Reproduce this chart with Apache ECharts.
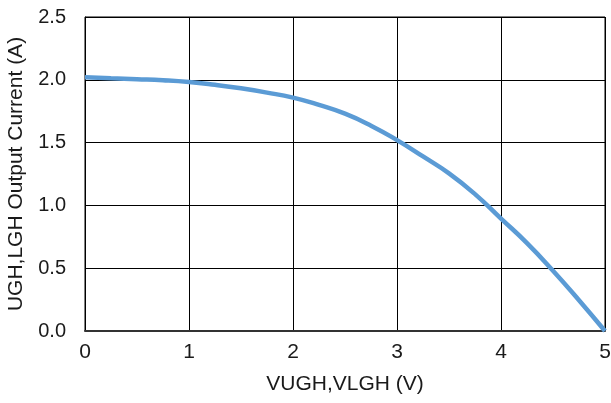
<!DOCTYPE html>
<html>
<head>
<meta charset="utf-8">
<script src="https://cdn.jsdelivr.net/npm/echarts@6/dist/echarts.min.js"></script>
<style>
  html, body { margin: 0; padding: 0; background: #fff; }
  #chart { width: 611px; height: 403px; }
</style>
</head>
<body>
<div id="chart"></div>
<script>
// Output current vs output voltage
const voltage = [0, 0.25, 0.5, 0.75, 1.0, 1.25, 1.5, 1.75, 2.0, 2.25, 2.5,
                 2.75, 3.0, 3.25, 3.5, 3.75, 4.0, 4.25, 4.5, 4.75, 5.0];
const current = [2.02, 2.012, 2.005, 1.997, 1.983, 1.96, 1.932, 1.898, 1.858, 1.80, 1.73,
                 1.635, 1.52, 1.39, 1.255, 1.09, 0.895, 0.70, 0.48, 0.245, 0.0];
const xTicks = [0, 1, 2, 3, 4, 5];
const yTicks = [0.0, 0.5, 1.0, 1.5, 2.0, 2.5];

const points = voltage.map((v, i) => [v, current[i]]);
const font = 'Liberation Sans, Arial, sans-serif';

const chart = echarts.init(document.getElementById('chart'), null, { renderer: 'canvas' });
chart.setOption({
  animation: false,
  grid: {
    left: 85, right: 6, top: 17, bottom: 72,
    containLabel: false, outerBoundsMode: 'none',
    show: true, borderColor: '#000', borderWidth: 1
  },
  xAxis: {
    type: 'value', min: xTicks[0], max: xTicks[xTicks.length - 1], interval: 1,
    name: 'VUGH,VLGH (V)', nameLocation: 'middle', nameGap: 43,
    nameTextStyle: { fontFamily: font, fontSize: 21, color: '#1a1a1a' },
    axisLine: { show: true, lineStyle: { color: '#333', width: 2 } },
    axisTick: { show: false },
    axisLabel: { fontFamily: font, fontSize: 21, color: '#1a1a1a', margin: 11 },
    splitLine: { show: true, lineStyle: { color: '#000', width: 1 } }
  },
  yAxis: {
    type: 'value', min: yTicks[0], max: yTicks[yTicks.length - 1], interval: 0.5,
    name: 'UGH,LGH Output Current (A)', nameLocation: 'middle', nameGap: 58, nameRotate: 90,
    nameTextStyle: { fontFamily: font, fontSize: 21, color: '#1a1a1a' },
    axisLine: { show: true, lineStyle: { color: '#000', width: 1 } },
    axisTick: { show: false },
    axisLabel: { fontFamily: font, fontSize: 20, color: '#1a1a1a', margin: 19,
      formatter: v => v.toFixed(1) },
    splitLine: { show: true, lineStyle: { color: '#000', width: 1 } }
  },
  series: [{
    type: 'line', data: points, smooth: 0.5, showSymbol: false,
    lineStyle: { color: '#5B9BD5', width: 4.5 }
  }]
});
</script>
</body>
</html>
